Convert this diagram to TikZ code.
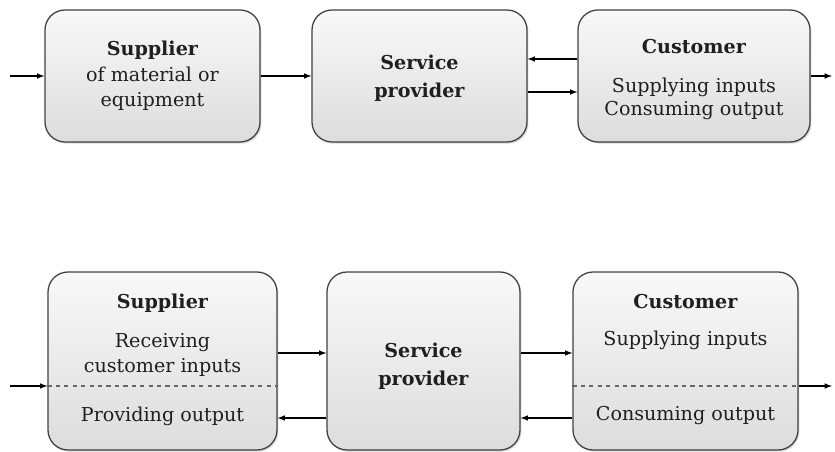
\documentclass[tikz,border=0pt]{standalone}
\usepackage{fontspec}
\setmainfont{DejaVu Serif}
\usetikzlibrary{arrows, positioning, shadows}

\tikzset{
  block/.style={draw=black!75, line width=0.9pt, rounded corners=0.5cm,
    top color=gray!5, bottom color=gray!27,
    drop shadow={opacity=0.3, shadow xshift=1pt, shadow yshift=-1.2pt}},
  flow/.style={-latex, thick},
  txt/.style={align=center, font=\fontsize{13.6}{18}\selectfont, text=black!88}
}

\begin{document}
\begin{tikzpicture}
\useasboundingbox (0,0) rectangle (20.875,11.3);

% upper chain
\node[block, minimum width=5.375cm, minimum height=3.3cm] (sup1) at (3.8125,9.4) {};
\node[block, minimum width=5.375cm, minimum height=3.3cm] (srv1) at (10.4875,9.4) {};
\node[block, minimum width=5.8cm, minimum height=3.3cm] (cus1) at (17.35,9.4) {};

\node[txt] (sup1t) at (sup1) {\textbf{Supplier}\\of material or\\equipment};
\node[txt] (srv1t) at ([yshift=-0.05cm]srv1.center) {\textbf{Service}\\[2pt]\textbf{provider}};
\node[txt] (cus1t) at ([yshift=-0.08cm]cus1.center) {\textbf{Customer}\\[10pt]Supplying inputs\\[-1.7pt]Consuming output};

\coordinate (in1) at (0.25,9.4);
\coordinate (out1) at (20.8,9.4);
\draw [flow] (in1) -- (sup1);
\draw [flow] (sup1) -- (srv1);
\draw [flow] ([yshift=0.425cm]cus1.west) -- ([yshift=0.425cm]srv1.east);
\draw [flow] ([yshift=-0.4cm]srv1.east) -- ([yshift=-0.4cm]cus1.west);
\draw [flow] (cus1) -- (out1);

% lower chain
\node[block, minimum width=5.725cm, minimum height=4.45cm] (sup2) at (4.0625,2.275) {};
\node[block, minimum width=4.825cm, minimum height=4.45cm] (srv2) at (10.5875,2.275) {};
\node[block, minimum width=5.625cm, minimum height=4.45cm] (cus2) at (17.1375,2.275) {};

\node[txt] (sup2t) at (4.0625,3.72) {\textbf{Supplier}};
\node[txt] (sup2a) at (4.0625,2.42) {Receiving\\customer inputs};
\node[txt] (sup2b) at (4.0625,0.9) {Providing output};
\node[txt] (srv2t) at ([yshift=-0.12cm]srv2.center) {\textbf{Service}\\[2pt]\textbf{provider}};
\node[txt] (cus2t) at (17.1375,3.76) {\textbf{Customer}};
\node[txt] (cus2a) at (17.1375,2.78) {Supplying inputs};
\node[txt] (cus2b) at (17.1375,0.9) {Consuming output};

\draw [dashed, black!60, thick] (sup2.west |- 0,1.65) -- (sup2.east |- 0,1.65);
\draw [dashed, black!60, thick] (cus2.west |- 0,1.65) -- (cus2.east |- 0,1.65);

\coordinate (in2) at (0.25,1.65);
\coordinate (out2) at (20.8,1.65);
\draw [flow] (in2) -- (sup2.west |- in2);
\draw [flow] (sup2.east |- 0,2.475) -- (srv2.west |- 0,2.475);
\draw [flow] (srv2.east |- 0,2.475) -- (cus2.west |- 0,2.475);
\draw [flow] (cus2.west |- 0,0.85) -- (srv2.east |- 0,0.85);
\draw [flow] (srv2.west |- 0,0.85) -- (sup2.east |- 0,0.85);
\draw [flow] (cus2.east |- out2) -- (out2);
\end{tikzpicture}
\end{document}
